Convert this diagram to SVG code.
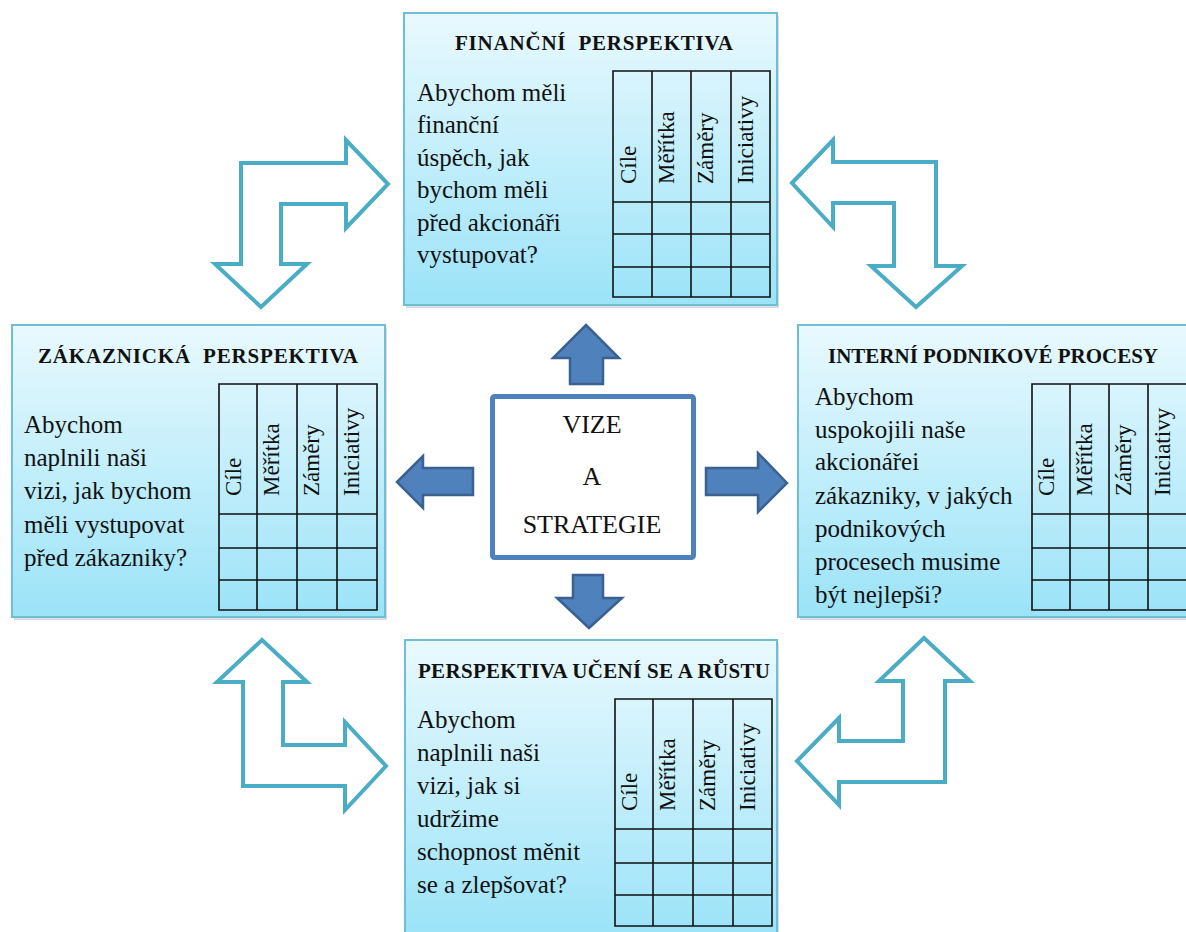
<svg xmlns="http://www.w3.org/2000/svg" width="1186" height="932" viewBox="0 0 1186 932">
<defs>
<linearGradient id="bg" x1="0" y1="0" x2="0" y2="1">
<stop offset="0" stop-color="#e9f9fe"/>
<stop offset="1" stop-color="#9be3f8"/>
</linearGradient>
<style>
.box{fill:url(#bg);stroke:#6cbfd6;stroke-width:2}
.shadow{fill:#9a9a9a;opacity:0.35}
.grid{fill:none;stroke:#111;stroke-width:1.6}
.title{font-family:"Liberation Serif",serif;font-weight:bold;font-size:21px;fill:#111;white-space:pre}
.body{font-family:"Liberation Serif",serif;font-size:25px;fill:#111}
.col{font-family:"Liberation Serif",serif;font-size:23px;fill:#111}
.center{font-family:"Liberation Serif",serif;font-size:26px;fill:#111;text-anchor:middle}
.solid{fill:#4f81bd;stroke:#3a6190;stroke-width:2.5;stroke-linejoin:miter}
.outline{fill:#fff;stroke:#4bacc6;stroke-width:4;stroke-linejoin:miter}
</style>
</defs>
<rect width="1186" height="932" fill="#fff"/>

<g id="connectors">
<polygon class="outline" points="261,307 215,264 241,264 241,163 346,163 346,140 388,184 346,228 346,204 281,204 281,264 307,264"/>
<polygon class="outline" points="792,183 833,140 833,162 936,162 936,266 962,266 916,307 871,266 894,266 894,203 833,203 833,227"/>
<polygon class="outline" points="262,640 307,682 283,682 283,745 345,745 345,722 386,766 345,810 345,786 243,786 243,682 217,682"/>
<polygon class="outline" points="924,638 970,681 945,681 945,782 839,782 839,805 797,761 839,718 839,741 903,741 903,681 879,681"/>
<polygon class="solid" points="586,325 619,358 603,358 603,384 570,384 570,358 553,358"/>
<polygon class="solid" points="397,482 423,456 423,468 473,468 473,495 423,495 423,508"/>
<polygon class="solid" points="787,483 758,453 758,468 706,468 706,495 758,495 758,512"/>
<polygon class="solid" points="589,628 622,598 603,598 603,575 573,575 573,598 557,598"/>
</g>

<g id="financni">
<rect class="shadow" x="406" y="16" width="373" height="292"/>
<rect class="box" x="404" y="13" width="373" height="292"/>
<text class="title" x="455" y="50" textLength="278" lengthAdjust="spacing" xml:space="preserve">FINANČNÍ  PERSPEKTIVA</text>
<text class="body" x="417"><tspan x="417" y="101">Abychom měli</tspan><tspan x="417" y="133">finanční</tspan><tspan x="417" y="166">úspěch, jak</tspan><tspan x="417" y="198">bychom měli</tspan><tspan x="417" y="231">před akcionáři</tspan><tspan x="417" y="263">vystupovat?</tspan></text>
<path class="grid" d="M613,71H770V297H613Z M652,71V297 M691,71V297 M731,71V297 M613,202H770 M613,234H770 M613,267H770"/>
<text class="col" transform="translate(636,184) rotate(-90)">Cíle</text>
<text class="col" transform="translate(674,184) rotate(-90)">Měřítka</text>
<text class="col" transform="translate(713,184) rotate(-90)">Záměry</text>
<text class="col" transform="translate(753,184) rotate(-90)">Iniciativy</text>
</g>

<g id="zakaznicka">
<rect class="shadow" x="14" y="328" width="373" height="292"/>
<rect class="box" x="12" y="325" width="373" height="292"/>
<text class="title" x="38" y="363" textLength="320" lengthAdjust="spacing" xml:space="preserve">ZÁKAZNICKÁ  PERSPEKTIVA</text>
<text class="body"><tspan x="24" y="433">Abychom</tspan><tspan x="24" y="466">naplnili naši</tspan><tspan x="24" y="499">vizi, jak bychom</tspan><tspan x="24" y="533">měli vystupovat</tspan><tspan x="24" y="566">před zákazniky?</tspan></text>
<path class="grid" d="M219,384H377V610H219Z M257,384V610 M297,384V610 M337,384V610 M219,514H377 M219,548H377 M219,580H377"/>
<text class="col" transform="translate(241,496) rotate(-90)">Cíle</text>
<text class="col" transform="translate(279,496) rotate(-90)">Měřítka</text>
<text class="col" transform="translate(319,496) rotate(-90)">Záměry</text>
<text class="col" transform="translate(359,496) rotate(-90)">Iniciativy</text>
</g>

<g id="interni">
<rect class="shadow" x="800" y="328" width="394" height="292"/>
<rect class="box" x="798" y="325" width="394" height="292"/>
<text class="title" x="828" y="363" textLength="330" lengthAdjust="spacing">INTERNÍ PODNIKOVÉ PROCESY</text>
<text class="body"><tspan x="815" y="405">Abychom</tspan><tspan x="815" y="438">uspokojili naše</tspan><tspan x="815" y="470">akcionářei</tspan><tspan x="815" y="504">zákazniky, v jakých</tspan><tspan x="815" y="537">podnikových</tspan><tspan x="815" y="570">procesech musime</tspan><tspan x="815" y="603">být nejlepši?</tspan></text>
<path class="grid" d="M1032,384H1187V610H1032Z M1070,384V610 M1109,384V610 M1148,384V610 M1032,514H1187 M1032,548H1187 M1032,580H1187"/>
<text class="col" transform="translate(1054,496) rotate(-90)">Cíle</text>
<text class="col" transform="translate(1092,496) rotate(-90)">Měřítka</text>
<text class="col" transform="translate(1131,496) rotate(-90)">Záměry</text>
<text class="col" transform="translate(1170,496) rotate(-90)">Iniciativy</text>
</g>

<g id="uceni">
<rect class="shadow" x="407" y="643" width="372" height="296"/>
<rect class="box" x="405" y="640" width="372" height="296"/>
<text class="title" x="418" y="678" textLength="352" lengthAdjust="spacing">PERSPEKTIVA UČENÍ SE A RŮSTU</text>
<text class="body"><tspan x="417" y="728">Abychom</tspan><tspan x="417" y="761">naplnili naši</tspan><tspan x="417" y="794">vizi, jak si</tspan><tspan x="417" y="827">udržime</tspan><tspan x="417" y="860">schopnost měnit</tspan><tspan x="417" y="893">se a zlepšovat?</tspan></text>
<path class="grid" d="M615,699H772V926H615Z M653,699V926 M693,699V926 M733,699V926 M615,829H772 M615,863H772 M615,895H772"/>
<text class="col" transform="translate(637,811) rotate(-90)">Cíle</text>
<text class="col" transform="translate(675,811) rotate(-90)">Měřítka</text>
<text class="col" transform="translate(715,811) rotate(-90)">Záměry</text>
<text class="col" transform="translate(755,811) rotate(-90)">Iniciativy</text>
</g>

<g id="vize">
<rect x="492.5" y="396.5" width="201" height="161" rx="2" fill="#fff" stroke="#4f81bd" stroke-width="5"/>
<text class="center" x="592" y="433">VIZE</text>
<text class="center" x="592" y="485">A</text>
<text class="center" x="592" y="533">STRATEGIE</text>
</g>
</svg>
